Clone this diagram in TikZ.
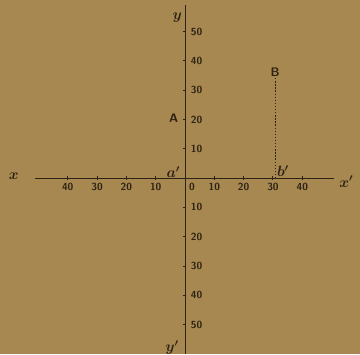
\documentclass[tikz,border=0pt]{standalone}
\usetikzlibrary{positioning}
\definecolor{paper}{HTML}{A68850}
\definecolor{ink}{HTML}{2E2214}
\tikzset{
  ax/.style={draw=ink,line width=0.9pt},
  tk/.style={draw=ink,line width=1pt},
  num/.style={font=\sffamily\bfseries,text=ink,inner sep=1pt},
  let/.style={font=\Large\boldmath,text=ink,inner sep=1pt},
  pt/.style={font=\sffamily\bfseries\large,text=ink,inner sep=1pt},
  dots/.style={draw=ink,line width=1.5pt,dash pattern=on 1.3pt off 1.7pt},
}
\begin{document}
\begin{tikzpicture}[x=1mm,y=1mm]
\fill[paper] (-63.1,-60.1) rectangle (59.7,60.75);
\useasboundingbox (-63.1,-60.1) rectangle (59.7,60.75);
% axes
\coordinate (O) at (0,0);
\coordinate (xl) at (-51,0); \coordinate (xr) at (51,0);
\coordinate (yt) at (0,59); \coordinate (yb) at (0,-60.1);
\draw[ax] (xl) -- (xr);
\draw[ax] (yt) -- (yb);
% scale marks
\foreach \v in {10,20,30,40} {
  \draw[tk] (\v,-0.6) -- (\v,0.6); \draw[tk] (-\v,-0.6) -- (-\v,0.6);
  \node[num,anchor=north] (xp\v) at (\v,-1.3) {\v};
  \node[num,anchor=north] (xn\v) at (-\v,-1.3) {\v};
}
\node[num,anchor=north] (x0) at (2.4,-1.3) {0};
\foreach \v in {10,20,30,40,50} {
  \draw[tk] (-0.8,\v) -- (0.3,\v); \draw[tk] (-0.8,-\v) -- (0.3,-\v);
  \node[num,anchor=west] (yp\v) at (1.6,\v) {\v};
  \node[num,anchor=west] (yn\v) at (1.6,-\v) {\v};
}
% letters
\node[let] (xlab) at (-58.4,0.8) {$x$};
\node[let] (xlab2) at (55,-1.2) {$x'$};
\node[let] (ylab) at (-2.6,54.8) {$y$};
\node[let] (ylab2) at (-4.4,-57.8) {$y'$};
\node[let] (a) at (-4,2.1) {$a'$};
\node[let] (b) at (33.4,2.3) {$b'$};
\node[pt] (A) at (-3.9,20.5) {A};
\node[pt] (B) at (30.8,36) {B};
\coordinate (Bfoot) at (B |- O);
\draw[dots] (B.south) -- (Bfoot);
\end{tikzpicture}
\end{document}
